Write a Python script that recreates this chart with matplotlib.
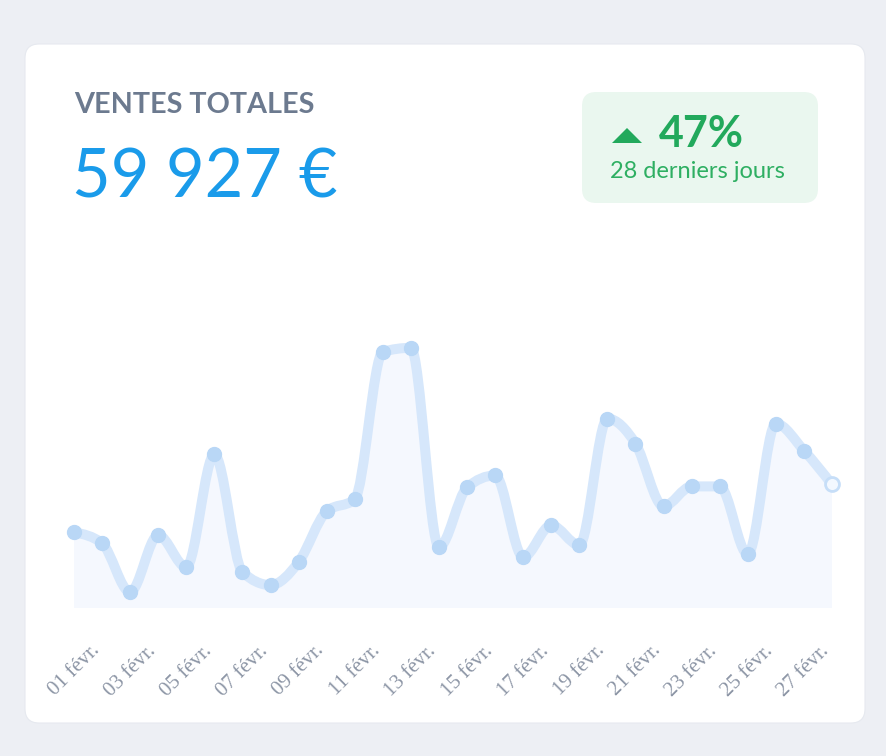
import numpy as np
import matplotlib.pyplot as plt
from matplotlib.path import Path
from matplotlib.patches import PathPatch, FancyBboxPatch, Polygon

# daily sales, february (EUR)
days = [f"{d:02d} févr." for d in range(1, 29)]
sales = [1520, 1300, 320, 1460, 820, 3080, 720, 460, 920, 1940,
         2180, 5140, 5220, 1220, 2420, 2660, 1020, 1660, 1260, 3800,
         3300, 2040, 2440, 2440, 1080, 3700, 3160, 2480]
title = "VENTES TOTALES"
total = "59\u202f927 €"
change = "47%"
period = "28 derniers jours"

W, H = 886, 756
fig = plt.figure(figsize=(W / 100, H / 100), dpi=100)
fig.patch.set_facecolor("#edeff4")


def fx(px):
    return px / W


def fy(py):
    return 1 - py / H


# white card
card = FancyBboxPatch((fx(25), fy(723)), fx(840), (723 - 44) / H,
                      boxstyle="round,pad=0,rounding_size=0.016",
                      transform=fig.transFigure, facecolor="white",
                      edgecolor="#e6e9ef", linewidth=0.8, zorder=-2,
                      mutation_aspect=W / H)
fig.patches.append(card)

fig.text(fx(74), fy(113), title, family="Lato", weight="bold",
         fontsize=20.7, color="#6c7a8f", va="baseline")
fig.text(fx(72), fy(197), total, family=["Lato", "DejaVu Sans"], fontsize=48,
         color="#1a9bea", va="baseline")

# badge
badge = FancyBboxPatch((fx(582), fy(203)), fx(236), (203 - 92) / H,
                       boxstyle="round,pad=0,rounding_size=0.016",
                       transform=fig.transFigure, facecolor="#eaf7ef",
                       edgecolor="none", zorder=-1, mutation_aspect=W / H)
fig.patches.append(badge)
tri = Polygon([(fx(612), fy(143)), (fx(642), fy(143)), (fx(627), fy(128))],
              closed=True, transform=fig.transFigure,
              facecolor="#22a95c", edgecolor="none", zorder=2)
fig.patches.append(tri)
fig.text(fx(659), fy(147), change, family="Lato", weight="bold",
         fontsize=31, color="#22a95c", va="baseline")
fig.text(fx(610), fy(178), period, family="Lato", fontsize=17,
         color="#2eaf62", va="baseline")

# chart
ax = fig.add_axes([fx(74), fy(608), fx(832 - 74), (608 - 300) / H])
ax.set_facecolor("none")
x = np.arange(len(sales))
y = np.array(sales, dtype=float)

# monotone cubic curve through the points (no overshoot)
s = np.diff(y)
m = np.zeros_like(y)
for i in range(1, len(y) - 1):
    p = (s[i - 1] + s[i]) / 2
    m[i] = (np.sign(s[i - 1]) + np.sign(s[i])) * min(abs(s[i - 1]), abs(s[i]), 0.5 * abs(p))
m[0] = (3 * s[0] - m[1]) / 2
m[-1] = (3 * s[-1] - m[-2]) / 2

verts = [(x[0], y[0])]
codes = [Path.MOVETO]
for i in range(len(y) - 1):
    verts += [(x[i] + 1 / 3, y[i] + m[i] / 3),
              (x[i + 1] - 1 / 3, y[i + 1] - m[i + 1] / 3),
              (x[i + 1], y[i + 1])]
    codes += [Path.CURVE4] * 3

area = Path(verts + [(x[-1], 0), (x[0], 0), verts[0]],
            codes + [Path.LINETO, Path.LINETO, Path.CLOSEPOLY])
ax.add_patch(PathPatch(area, facecolor="#f5f8fe", edgecolor="none", zorder=1))
ax.add_patch(PathPatch(Path(verts, codes), facecolor="none",
                       edgecolor="#d6e7fb", linewidth=7.2, capstyle="round",
                       joinstyle="round", zorder=2, clip_on=False))
ax.plot(x[:-1], y[:-1], "o", ms=10, color="#b9d7f6", mec="#b9d7f6",
        zorder=3, clip_on=False)
ax.plot(x[-1:], y[-1:], "o", ms=10, mfc="#f3f8ff", mec="#c6def8", mew=2,
        zorder=3, clip_on=False)

ax.set_xlim(0, len(sales) - 1)
ax.set_ylim(0, 6180)
ax.set_xticks(x[::2])
ax.set_xticklabels(days[::2], rotation=45, ha="center", va="top",
                   family="Liberation Serif", fontsize=15, color="#8d96a6")
ax.tick_params(axis="x", length=0, pad=24)
ax.set_yticks([])
for sp in ax.spines.values():
    sp.set_visible(False)

fig.savefig("out.png", dpi=100, facecolor=fig.get_facecolor())
